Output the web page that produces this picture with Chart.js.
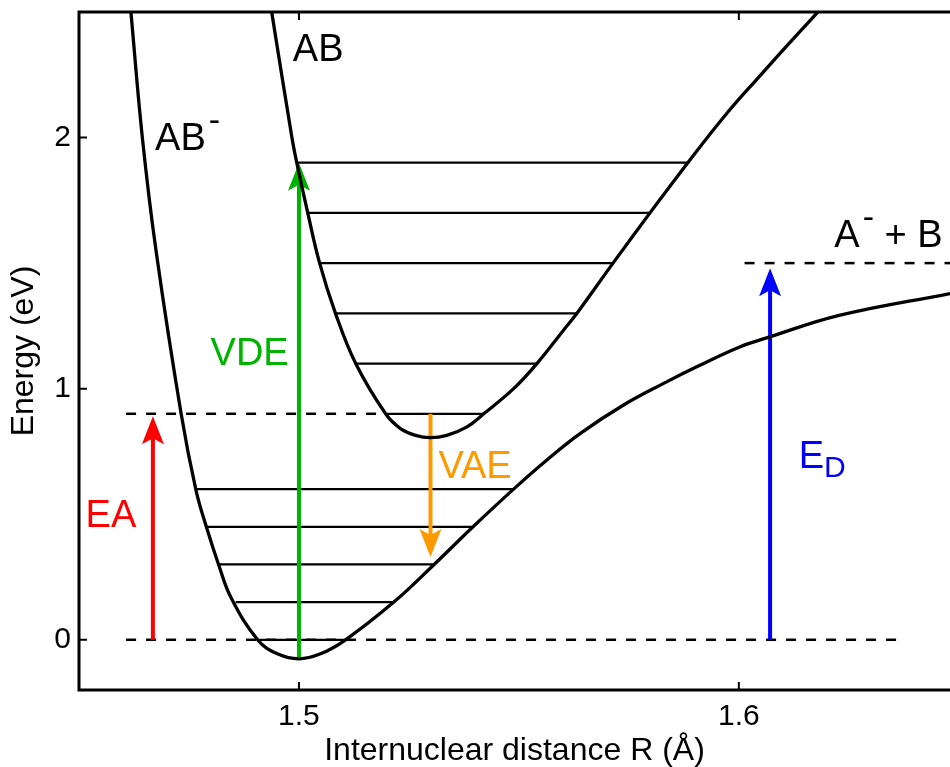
<!DOCTYPE html>
<html>
<head>
<meta charset="utf-8">
<script src="https://cdn.jsdelivr.net/npm/chart.js@4/dist/chart.umd.min.js"></script>
<style>
  html, body { margin: 0; padding: 0; background: #fff; }
  #wrap { width: 950px; height: 767px; }
</style>
</head>
<body>
<div id="wrap"><canvas id="c" width="950" height="767"></canvas></div>
<script>
// Potential energy curve of the anion AB⁻ (R in Å, energy in eV)
const anionR = [1.4618, 1.4644, 1.4675, 1.4732, 1.4766, 1.4790, 1.4818, 1.4845, 1.4906, 1.4951, 1.5000,
                1.5049, 1.5106, 1.5215, 1.5305, 1.5394, 1.5488, 1.5563, 1.5639, 1.5737, 1.5828,
                1.5903, 1.6002, 1.6070, 1.6228, 1.6480];
const anionE = [2.50, 2.00, 1.551, 0.902, 0.595, 0.447, 0.296, 0.170, 0.000, -0.056, -0.076,
                -0.056, 0.000, 0.149, 0.296, 0.447, 0.600, 0.715, 0.821, 0.934, 1.020,
                1.086, 1.166, 1.206, 1.292, 1.379];

// Potential energy curve of the neutral AB
const neutralR = [1.4938, 1.4984, 1.4995, 1.5020, 1.5047, 1.5083, 1.5129, 1.5197, 1.5231, 1.5265, 1.5299,
                  1.5336, 1.5382, 1.5420, 1.5488, 1.5541, 1.5601, 1.5632, 1.5714, 1.5798, 1.5884, 1.5971,
                  1.6047, 1.6122, 1.6185];
const neutralE = [2.50, 2.00, 1.90, 1.70, 1.50, 1.30, 1.10, 0.90, 0.841, 0.814, 0.805,
                  0.814, 0.848, 0.90, 1.000, 1.10, 1.232, 1.30, 1.50, 1.70, 1.90, 2.093,
                  2.244, 2.390, 2.51];

// Vibrational levels (energy, inner and outer turning points)
const anionLevelE    = [0.00, 0.15, 0.30, 0.45, 0.60];
const anionLevelFrom = [1.4906, 1.4856, 1.4818, 1.4790, 1.4766];
const anionLevelTo   = [1.5106, 1.5215, 1.5305, 1.5394, 1.5488];
const neutralLevelE    = [0.90, 1.10, 1.30, 1.50, 1.70, 1.90];
const neutralLevelFrom = [1.5197, 1.5129, 1.5083, 1.5047, 1.5020, 1.4996];
const neutralLevelTo   = [1.5420, 1.5541, 1.5632, 1.5714, 1.5798, 1.5884];

// Dashed reference energies
const refE    = [0.90, 0.00, 1.50];
const refFrom = [1.4607, 1.4607, 1.6013];
const refTo   = [1.5197, 1.6376, 1.6480];

// Transition arrows: position R, start energy, tip energy
const arrowNames  = ['EA', 'VDE', 'VAE', 'ED'];
const arrowR      = [1.4668, 1.5000, 1.5299, 1.6071];
const arrowFrom   = [0.00, -0.07, 0.90, 0.00];
const arrowTo     = [0.89, 1.90, 0.33, 1.48];
const arrowColors = ['#ff0000', '#00b300', '#ff9900', '#0000ff'];

// Axis ticks
const xTicks = [1.5, 1.6];
const xTickLabels = ['1.5', '1.6'];
const yTicks = [0, 1, 2];
const yTickLabels = ['0', '1', '2'];

const FAMILY = '"Liberation Sans", Arial, Helvetica, sans-serif';
Chart.defaults.font.family = FAMILY;
Chart.defaults.color = '#000';

// Text annotations placed in data coordinates (left end, baseline)
const annotations = [
  { parts: [{ t: 'AB' }], x: 1.4986, y: 2.305, color: '#000' },
  { parts: [{ t: 'AB' }, { t: '-', sup: true }], x: 1.4673, y: 1.951, color: '#000' },
  { parts: [{ t: 'VDE' }], x: 1.4799, y: 1.094, color: arrowColors[1] },
  { parts: [{ t: 'VAE' }], x: 1.5317, y: 0.643, color: arrowColors[2] },
  { parts: [{ t: 'EA' }], x: 1.4515, y: 0.448, color: arrowColors[0] },
  { parts: [{ t: 'E' }, { t: 'D', sub: true }], x: 1.6136, y: 0.685, color: arrowColors[3] },
  { parts: [{ t: 'A' }, { t: '-', sup: true }, { t: ' + B' }], x: 1.6217, y: 1.566, color: '#000' }
];

const pts = (xs, ys) => xs.map((x, i) => ({ x: x, y: ys[i] }));

const datasets = [];
// potential curves (drawn last, on top)
datasets.push({ data: pts(anionR, anionE), borderColor: '#000', borderWidth: 3.3,
  tension: 0.4, order: 0, isCurve: true });
datasets.push({ data: pts(neutralR, neutralE), borderColor: '#000', borderWidth: 3.3,
  tension: 0.4, order: 0, isCurve: true });
anionLevelE.forEach((e, i) => datasets.push({
  data: [{ x: anionLevelFrom[i], y: e }, { x: anionLevelTo[i], y: e }],
  borderColor: '#000', borderWidth: 2.2, order: 2 }));
neutralLevelE.forEach((e, i) => datasets.push({
  data: [{ x: neutralLevelFrom[i], y: e }, { x: neutralLevelTo[i], y: e }],
  borderColor: '#000', borderWidth: 2.2, order: 2 }));
refE.forEach((e, i) => datasets.push({
  data: [{ x: refFrom[i], y: e }, { x: refTo[i], y: e }],
  borderColor: '#000', borderWidth: 2.5, borderDash: [10, 10], order: 3 }));

function drawArrow(ctx, x, y0, y1, color) {
  const dir = y1 < y0 ? -1 : 1;
  const L = 28, W = 11, N = 6;
  ctx.save();
  ctx.strokeStyle = color;
  ctx.fillStyle = color;
  ctx.lineWidth = 4;
  ctx.lineCap = 'butt';
  ctx.beginPath();
  ctx.moveTo(x, y0);
  ctx.lineTo(x, y1 - dir * (L - N - 2));
  ctx.stroke();
  ctx.beginPath();
  ctx.moveTo(x, y1);
  ctx.lineTo(x - W, y1 - dir * L);
  ctx.lineTo(x, y1 - dir * (L - N));
  ctx.lineTo(x + W, y1 - dir * L);
  ctx.closePath();
  ctx.fill();
  ctx.restore();
}

const diagramPlugin = {
  id: 'diagram',
  beforeDatasetsDraw(chart) { chart.$arrowsDone = false; },
  beforeDatasetDraw(chart, args) {
    if (chart.$arrowsDone || !chart.data.datasets[args.index].isCurve) return;
    chart.$arrowsDone = true;
    const xs = chart.scales.x, ys = chart.scales.y, ctx = chart.ctx;
    arrowR.forEach((r, i) => drawArrow(ctx, xs.getPixelForValue(r),
      ys.getPixelForValue(arrowFrom[i]), ys.getPixelForValue(arrowTo[i]), arrowColors[i]));
  },
  afterDraw(chart) {
    const ctx = chart.ctx, xs = chart.scales.x, ys = chart.scales.y;
    const a = chart.chartArea;
    ctx.save();
    // frame: top, left, bottom
    ctx.strokeStyle = '#000';
    ctx.lineWidth = 3;
    ctx.lineJoin = 'miter';
    ctx.beginPath();
    ctx.moveTo(a.right + 2, a.top);
    ctx.lineTo(a.left, a.top);
    ctx.lineTo(a.left, a.bottom);
    ctx.lineTo(a.right + 2, a.bottom);
    ctx.stroke();
    // inward tick marks
    ctx.lineWidth = 2;
    ctx.beginPath();
    xTicks.forEach(v => {
      const px = xs.getPixelForValue(v);
      ctx.moveTo(px, a.bottom); ctx.lineTo(px, a.bottom - 8);
      ctx.moveTo(px, a.top); ctx.lineTo(px, a.top + 8);
    });
    yTicks.forEach(v => {
      const py = ys.getPixelForValue(v);
      ctx.moveTo(a.left, py); ctx.lineTo(a.left + 8, py);
    });
    ctx.stroke();
    // annotations
    ctx.textAlign = 'left';
    ctx.textBaseline = 'alphabetic';
    annotations.forEach(lab => {
      let cx = xs.getPixelForValue(lab.x);
      const by = ys.getPixelForValue(lab.y);
      ctx.fillStyle = lab.color;
      lab.parts.forEach(p => {
        if (p.sup) {
          ctx.font = '34px ' + FAMILY;
          cx += 3;
          ctx.fillText(p.t, cx, by - 18.5);
          cx += ctx.measureText(p.t).width;
        } else if (p.sub) {
          ctx.font = '30px ' + FAMILY;
          ctx.fillText(p.t, cx, by + 9);
          cx += ctx.measureText(p.t).width;
        } else {
          ctx.font = '38px ' + FAMILY;
          ctx.fillText(p.t, cx, by);
          cx += ctx.measureText(p.t).width;
        }
      });
    });
    ctx.restore();
  }
};

new Chart(document.getElementById('c'), {
  type: 'line',
  data: { datasets: datasets.map(d => Object.assign({ pointRadius: 0, pointHoverRadius: 0, fill: false }, d)) },
  options: {
    responsive: false,
    devicePixelRatio: 1,
    animation: false,
    events: [],
    layout: { padding: { top: 12, right: 0, bottom: 0, left: 0 } },
    plugins: { legend: { display: false }, tooltip: { enabled: false } },
    scales: {
      x: {
        type: 'linear', min: 1.45, max: 1.648,
        grid: { display: false, drawTicks: false },
        border: { display: false },
        ticks: { padding: 9, font: { size: 30 }, color: '#000',
          callback: v => xTickLabels[xTicks.indexOf(v)] },
        afterBuildTicks: s => { s.ticks = xTicks.map(v => ({ value: v })); },
        afterFit: s => { s.height = 77; s.paddingLeft = 0; s.paddingRight = 0; },
        title: { display: true, text: 'Internuclear distance R (Å)', color: '#000',
          font: { size: 32, lineHeight: 1 }, padding: { top: 0, bottom: 0 } }
      },
      y: {
        type: 'linear', min: -0.2, max: 2.5,
        grid: { display: false, drawTicks: false },
        border: { display: false },
        ticks: { padding: 8, font: { size: 30 }, color: '#000',
          callback: v => yTickLabels[yTicks.indexOf(v)] },
        afterBuildTicks: s => { s.ticks = yTicks.map(v => ({ value: v })); },
        afterFit: s => { s.width = 79; s.paddingTop = 0; s.paddingBottom = 0; },
        title: { display: true, text: 'Energy (eV)', color: '#000',
          font: { size: 32, lineHeight: 1 }, padding: { top: 8, bottom: 0 } }
      }
    }
  },
  plugins: [diagramPlugin]
});
</script>
</body>
</html>
